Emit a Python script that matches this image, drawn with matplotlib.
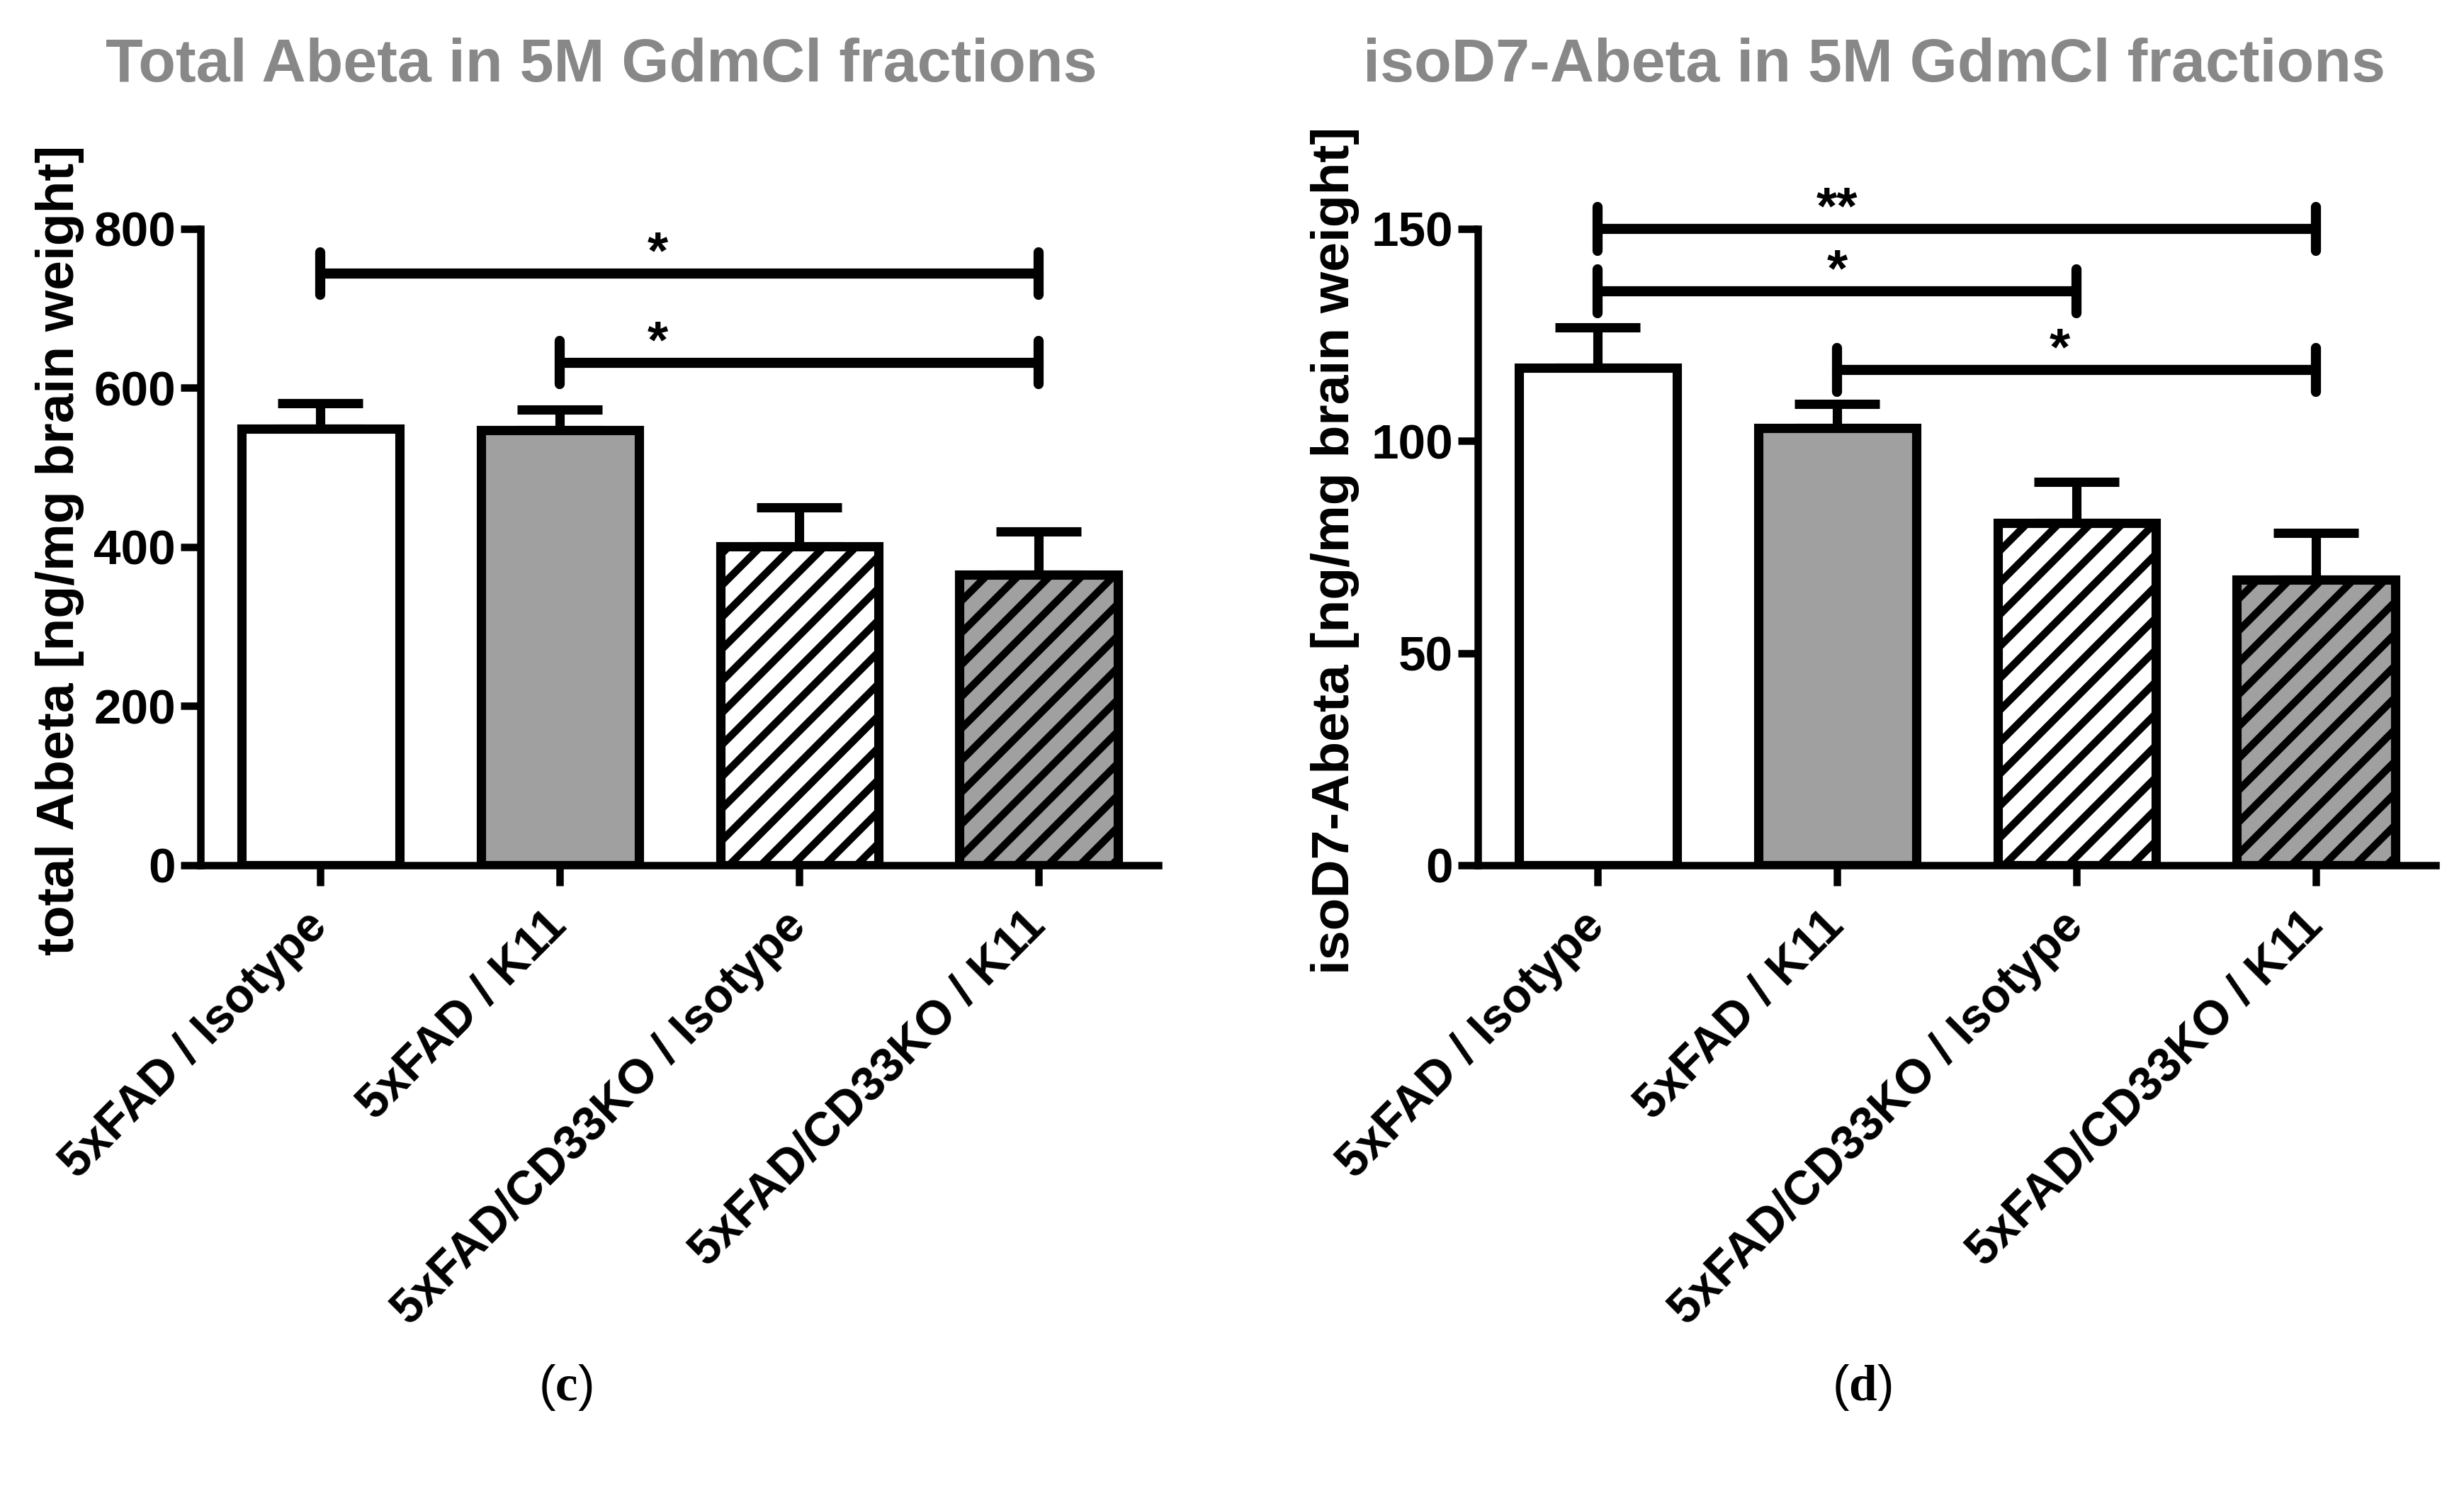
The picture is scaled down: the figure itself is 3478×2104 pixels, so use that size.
import numpy as np
import matplotlib
matplotlib.use("Agg")
import matplotlib.pyplot as plt

plt.rcParams['font.family'] = ['Liberation Sans', 'DejaVu Sans']
plt.rcParams['font.weight'] = 'bold'
plt.rcParams['hatch.linewidth'] = 2.8
plt.rcParams['hatch.color'] = 'black'
plt.rcParams['mathtext.fontset'] = 'custom'
plt.rcParams['mathtext.rm'] = 'Liberation Serif'
plt.rcParams['mathtext.bf'] = 'Liberation Serif:bold'

# data
groups = ['5xFAD / Isotype', '5xFAD / K11', '5xFAD/CD33KO / Isotype', '5xFAD/CD33KO / K11']
fills = ['white', '#a0a0a0', 'white', '#a0a0a0']
hatches = ['', '', '//', '//']

total_mean = [549, 547, 401, 365]
total_err = [32, 26, 49, 55]
total_ticks = [0, 200, 400, 600, 800]
# (from, to, height, stars, star x)
total_sig = [(0, 3, 744, '*', 1.41), (1, 3, 632, '*', 1.41)]

iso_mean = [117.3, 103.1, 80.7, 67.3]
iso_err = [9.4, 5.6, 9.6, 11.0]
iso_ticks = [0, 50, 100, 150]
iso_sig = [(0, 3, 150, '**', 1.0), (0, 2, 135.3, '*', 1.0), (1, 3, 116.7, '*', 1.93)]

fig = plt.figure(figsize=(3478/270, 2104/270), dpi=270)

def panel(rect, means, errs, ticks, sig, ylabel, title, lab, ylab_x, title_x, lab_x, tick_h):
    ax = fig.add_axes(rect)
    x = np.arange(len(means))
    ax.bar(x, means, width=0.66, color=fills, edgecolor='black', linewidth=3.5,
           hatch=hatches, zorder=2)
    ax.errorbar(x, means, yerr=[np.zeros(len(errs)), errs], fmt='none', ecolor='black',
                elinewidth=3.5, capsize=16, capthick=3.5, zorder=1)
    for a, b, y, s, sx in sig:
        ax.plot([a, b], [y, y], color='black', lw=3.8, solid_capstyle='round', clip_on=False)
        for e in (a, b):
            ax.plot([e, e], [y - tick_h, y + tick_h], color='black', lw=3.8,
                    solid_capstyle='round', clip_on=False)
        ax.annotate(s, (sx, y), xytext=(0, 2), textcoords='offset points', ha='center',
                    va='baseline', fontsize=20, fontweight='bold')
    ax.set_xlim(-0.5, 3.5)
    ax.set_ylim(0, ticks[-1])
    ax.set_yticks(ticks)
    ax.set_xticks(x)
    ax.set_xticklabels(groups, rotation=45, ha='right', va='center', rotation_mode='anchor',
                       fontsize=18, fontweight='bold')
    ax.tick_params(axis='y', labelsize=18.5, width=2.8, length=7.4, pad=1.9)
    ax.tick_params(axis='x', width=2.8, length=7.7, pad=12.5)
    for s in ['top', 'right']:
        ax.spines[s].set_visible(False)
    for s in ['left', 'bottom']:
        ax.spines[s].set_linewidth(2.8)
    fig.text(ylab_x, 0.631, ylabel, rotation=90, ha='center', va='center',
             fontsize=20, fontweight='bold')
    fig.text(title_x, 0.956, title, ha='center', va='center', fontsize=23,
             fontweight='bold', color='#888888')
    fig.text(lab_x, 1 - 1958/2104, lab, ha='center', va='center', fontsize=19,
             fontweight='normal')
    return ax

panel([0.0814, 0.4197, 0.3887, 0.4268], total_mean, total_err, total_ticks, total_sig,
      'total Abeta [ng/mg brain weight]', 'Total Abeta in 5M GdmCl fractions', r'($\mathbf{c}$)',
      0.0242, 0.244, 798/3478, 27)
panel([0.5998, 0.4197, 0.3887, 0.4268], iso_mean, iso_err, iso_ticks, iso_sig,
      'isoD7-Abeta [ng/mg brain weight]', 'isoD7-Abeta in 5M GdmCl fractions', r'($\mathbf{d}$)',
      0.5417, 0.7605, 2628/3478, 5.2)

fig.savefig('out.png', dpi=270)
